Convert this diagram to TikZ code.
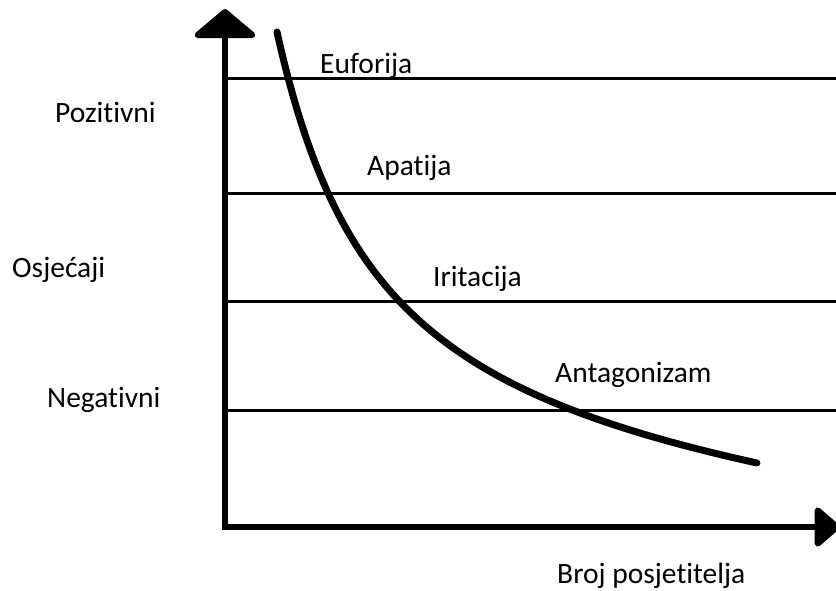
\documentclass[tikz,border=0pt]{standalone}
\usepackage{fontspec}
\setmainfont{Carlito}[Ligatures=NoCommon]
\usetikzlibrary{arrows.meta}

\begin{document}
\begin{tikzpicture}
[x=1pt,y=-1pt,%%%%%%%%%%%%%%%%%%%%%%%%%%%%%%
axis/.style={line width=6pt},
level/.style={line width=3pt},
curve/.style={line width=7pt,line cap=round},
lbl/.style={anchor=base west,inner sep=0pt,font=\fontsize{29.5}{32}\selectfont},
]%%%%%%%%%%%%%%%%%%%%%%%%%%%%%%
\useasboundingbox (0,0) rectangle (836,590);

\coordinate (origin) at (225,527);
\coordinate (ytop) at (225,9);
\coordinate (xend) at (840,527);

\draw[axis,-{Triangle[width=70pt,length=30pt,round]}] ([yshift=-3pt]origin) -- (ytop);
\draw[axis,-{Triangle[width=45pt,length=27pt,round]}] ([xshift=-3pt]origin) -- (xend);

\foreach \y in {78,193,301,410}
\draw[level] (228,\y) -- (836,\y);

\coordinate (cstart) at (277,32);
\coordinate (cend) at (757,463);
\draw[curve] (cstart) .. controls (336,296) and (435,392) .. (cend);

\node[lbl] (euf) at (320,73) {Euforija};
\node[lbl] (apa) at (367,175) {Apatija};
\node[lbl] (iri) at (433,286) {Iritacija};
\node[lbl] (ant) at (555,382) {Antagonizam};

\node[lbl] (poz) at (55,122) {Pozitivni};
\node[lbl] (osj) at (12,277) {Osjećaji};
\node[lbl] (neg) at (47,407) {Negativni};
\node[lbl] (broj) at (557,583) {Broj posjetitelja};
\end{tikzpicture}
\end{document}
